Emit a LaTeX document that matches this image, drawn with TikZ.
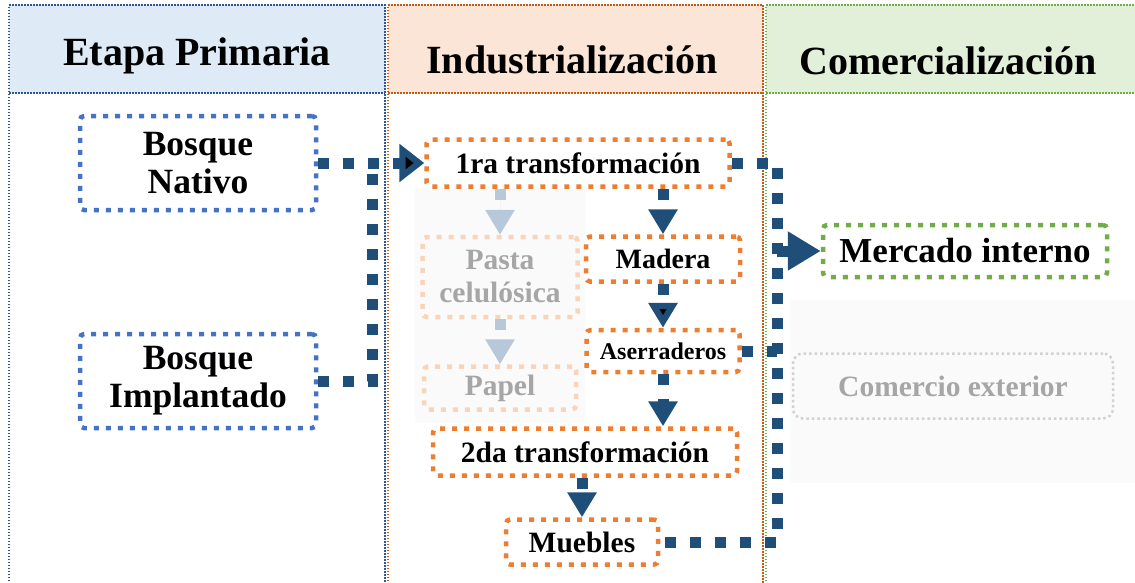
\documentclass[tikz,border=0pt]{standalone}
\usepackage{fontspec}
\setmainfont{Liberation Serif}
\usetikzlibrary{arrows.meta}

\definecolor{flowblue}{HTML}{1F4E79}
\definecolor{boxblue}{HTML}{4472C4}
\definecolor{boxorange}{HTML}{ED7D31}
\definecolor{boxgreen}{HTML}{70AD47}
\definecolor{fadeorange}{HTML}{F9D3BA}
\definecolor{fadeflow}{HTML}{B7C8DA}
\definecolor{hdrblue}{HTML}{DEEAF6}
\definecolor{hdrorange}{HTML}{FBE5D6}
\definecolor{hdrgreen}{HTML}{E2F0D9}
\definecolor{lineblue}{HTML}{2F5597}
\definecolor{lineorange}{HTML}{C55A11}

\begin{document}
\begin{tikzpicture}[x=1pt, y=-1pt, >={Triangle[width=28pt,length=25pt]},
	box/.style={draw, line width=4.5pt, dash pattern=on 5pt off 7pt, rounded corners=4pt,
		align=center, inner sep=0pt, font=\bfseries\fontsize{29.5}{33}\selectfont},
	prim/.style={box, boxblue, text=black, minimum width=236pt, minimum height=94pt,
		font=\bfseries\fontsize{35.5}{38}\selectfont},
	ind/.style={box, boxorange, text=black},
	faded/.style={box, fadeorange, text=black!35},
	com/.style={box, boxgreen, text=black},
	header/.style={anchor=base, font=\bfseries\fontsize{40}{44}\selectfont},
	frame/.style={line width=1.5pt, dash pattern=on 1.5pt off 1.5pt},
	flow/.style={draw=flowblue, line width=11pt, dash pattern=on 11pt off 14pt},
	fadeflow/.style={flow, draw=fadeflow, fill=fadeflow}]

	\clip (0,0) rectangle (1135,582);

	% Columns {primaria, industrializacion, comercializacion}
	\fill [hdrblue]   (9,5)   rectangle (385,93);
	\fill [hdrorange] (388,5) rectangle (763,93);
	\fill [hdrgreen]  (766,5) rectangle (1150,93);
	\draw [frame, lineblue]   (9,620) -- (9,5) -- (385,5) -- (385,620) (9,93) -- (385,93);
	\draw [frame, lineorange] (388,620) -- (388,5) -- (763,5) -- (763,620) (388,93) -- (763,93);
	\draw [frame, boxgreen]   (766,620) -- (766,5) -- (1150,5) (766,93) -- (1150,93);
	\fill [black!2] (415,188) rectangle (585,423);
	\fill [black!2] (790,300) rectangle (1150,483);

	\node [header] (hprim) at (197,65) {Etapa Primaria};
	\node [header] (hind)  at (572,73) {Industrialización};
	\node [header] (hcom)  at (948,74) {Comercialización};

	% Nodes
	\node [prim] (nativo)  at (198,163) {Bosque\\Nativo};
	\node [prim] (implant) at (198,381) {Bosque\\Implantado};

	\node [ind, minimum width=303pt, minimum height=47pt] (t1)      at (578,163) {1ra transformación};
	\node [faded, minimum width=155pt, minimum height=80pt] (pasta) at (500,277) {Pasta\\celulósica};
	\node [faded, minimum width=152pt, minimum height=43pt] (papel) at (500,388) {Papel};
	\node [ind, minimum width=154pt, minimum height=45pt,
		font=\bfseries\fontsize{28}{32}\selectfont]       (madera)  at (663,259) {Madera};
	\node [ind, minimum width=153pt, minimum height=42pt,
		font=\bfseries\fontsize{24}{28}\selectfont]       (aserr)   at (663,351) {Aserraderos};
	\node [ind, minimum width=304pt, minimum height=47pt] (t2)      at (585,452) {2da transformación};
	\node [ind, minimum width=152pt, minimum height=45pt] (muebles) at (582,542) {Muebles};

	\node [com, minimum width=284pt, minimum height=52pt,
		font=\bfseries\fontsize{35}{38}\selectfont]       (mercado)  at (965,251) {Mercado interno};
	\node [draw=black!18, line width=2.5pt, dash pattern=on 2.5pt off 3pt, rounded corners=10pt,
		minimum width=320pt, minimum height=65pt, text=black!35,
		font=\bfseries\fontsize{29.5}{32}\selectfont]     (exterior) at (953,386) {Comercio exterior};

	\coordinate (join)  at (372,163);
	\coordinate (trunk) at (777,300);
	\coordinate (mkt)   at (mercado.west -| trunk);

	% Paths
	\path [flow, ->, >={Triangle[width=37pt,length=25pt]}] (nativo) edge (t1);
	\draw [flow] (implant.east) -| (join);
	\draw [flow] (t1.east) -| (trunk) |- (muebles.east);
	\draw [flow] (aserr.east) -- (aserr.east -| trunk);
	\draw [flow, ->, >={Triangle[width=37pt,length=33pt]}] (mkt) -- (mercado.west);

	\draw [flow, ->] (madera.north |- t1.south) -- (madera.north);
	\path [flow, ->] (madera) edge (aserr);
	\draw [flow, ->] (aserr.south) -- (aserr.south |- t2.north);
	\draw [flow, ->] (muebles.north |- t2.south) -- (muebles.north);

	\draw [fadeflow, ->] (pasta.north |- t1.south) -- (pasta.north);
	\path [fadeflow, ->] (pasta) edge (papel);

\end{tikzpicture}
\end{document}
